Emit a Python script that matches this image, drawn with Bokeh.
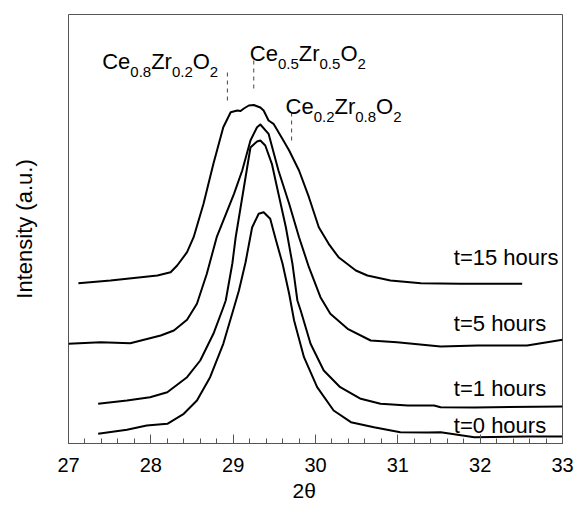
from bokeh.plotting import figure
from bokeh.models import Range1d, Label, SingleIntervalTicker, FixedTicker, Title
from bokeh.embed import file_html
from bokeh.resources import INLINE

# ---- data (2theta in degrees, intensity in arbitrary units) ----
t0_x = [27.36, 27.71, 27.95, 28.20, 28.40, 28.56, 28.72, 28.88, 29.01, 29.07, 29.15, 29.23, 29.31,
        29.37, 29.45, 29.51, 29.60, 29.68, 29.74, 29.86, 30.02, 30.22, 30.43, 30.71, 31.03, 31.36,
        31.52, 31.93, 32.57, 33.00]
t0_y = [9.7, 13.7, 18.0, 19.7, 29.7, 43.0, 66.3, 99.7, 136.0, 153.0, 181.0, 216.0, 229.7,
        231.3, 224.7, 206.3, 179.7, 149.7, 123.0, 86.3, 56.3, 33.0, 21.3, 16.3, 11.3, 11.0,
        11.3, 6.3, 7.0, 7.0]

t1_x = [27.36, 27.71, 27.99, 28.20, 28.44, 28.60, 28.76, 28.88, 28.91, 28.99, 29.03, 29.13, 29.21,
        29.29, 29.33, 29.39, 29.47, 29.55, 29.64, 29.72, 29.78, 29.82, 29.94, 30.10, 30.30, 30.55,
        30.79, 31.12, 31.44, 31.52, 31.93, 33.00]
t1_y = [39.7, 43.0, 46.3, 51.3, 66.3, 83.0, 109.7, 136.0, 143.0, 180.0, 206.0, 256.0, 296.0,
        302.0, 303.0, 298.0, 279.7, 249.7, 216.3, 179.7, 143.0, 133.0, 99.7, 73.0, 56.3, 44.7,
        39.7, 38.0, 38.0, 36.3, 36.0, 37.0]

t5_x = [27.00, 27.39, 27.75, 28.12, 28.28, 28.44, 28.56, 28.68, 28.80, 29.01, 29.11, 29.21, 29.29,
        29.33, 29.43, 29.55, 29.68, 29.80, 29.92, 30.06, 30.18, 30.39, 30.67, 30.99, 31.52, 31.97,
        32.57, 33.00]
t5_y = [99.7, 101.3, 100.3, 108.0, 113.0, 123.7, 139.7, 169.7, 206.3, 249.7, 273.0, 303.0, 316.3,
        319.0, 309.7, 273.0, 239.7, 206.3, 176.3, 146.3, 129.7, 114.7, 103.0, 101.3, 97.0, 98.0,
        98.0, 103.7]

t15_x = [27.12, 27.51, 28.08, 28.24, 28.32, 28.44, 28.52, 28.64, 28.76, 28.88, 28.97, 29.05, 29.09,
         29.13, 29.19, 29.25, 29.33, 29.37, 29.43, 29.49, 29.61, 29.68, 29.80, 29.92, 30.04, 30.16,
         30.28, 30.49, 30.63, 30.91, 31.28, 31.76, 32.51]
t15_y = [160.3, 163.0, 168.0, 171.3, 178.0, 191.3, 206.3, 239.7, 279.7, 316.3, 331.3, 333.0, 332.5,
         335.0, 338.0, 338.5, 336.0, 333.0, 323.0, 319.7, 303.0, 293.0, 273.0, 246.3, 216.3, 199.7,
         186.3, 173.0, 168.0, 163.0, 160.3, 159.7, 159.7]

series_labels = ["t=15 hours", "t=5 hours", "t=1 hours", "t=0 hours"]
series_label_y = [185.7, 119.7, 54.7, 18.0]

ref_x = [28.93, 29.25, 29.71]
ref_y0 = [343, 355, 303]
ref_y1 = [371, 383, 331]
ref_names = [[("Ce", False), ("0.8", True), ("Zr", False), ("0.2", True), ("O", False), ("2", True)],
             [("Ce", False), ("0.5", True), ("Zr", False), ("0.5", True), ("O", False), ("2", True)],
             [("Ce", False), ("0.2", True), ("Zr", False), ("0.8", True), ("O", False), ("2", True)]]
ref_label_x = [27.409, 29.202, 29.636]
ref_label_y = [382, 389.7, 337]

FONT = "Liberation Sans"

p = figure(width=576, height=508, output_backend="svg", toolbar_location=None,
           x_range=Range1d(27, 33), y_range=Range1d(0, 429),
           min_border_left=68, min_border_right=14, min_border_top=14, min_border_bottom=65)
p.background_fill_color = "white"
p.border_fill_color = "white"
p.outline_line_color = "#555555"
p.outline_line_width = 1
p.grid.visible = False

ya = p.yaxis[0]
ya.ticker = FixedTicker(ticks=[])
ya.axis_line_color = None
ya.major_tick_out = 0
ya.major_tick_in = 0
ya.minor_tick_out = 0
ya.minor_tick_in = 0
ya.major_label_standoff = 0
ya.axis_label = "Intensity (a.u.)"
ya.axis_label_text_font = FONT
ya.axis_label_text_font_size = "22px"
ya.axis_label_text_font_style = "normal"
ya.axis_label_text_color = "black"
ya.axis_label_standoff = 32

ax = p.xaxis[0]
ax.ticker = SingleIntervalTicker(interval=1, num_minor_ticks=5)
ax.axis_line_color = "#555555"
ax.major_tick_line_color = "#555555"
ax.minor_tick_line_color = "#555555"
ax.major_tick_in = 9
ax.major_tick_out = 0
ax.minor_tick_in = 5
ax.minor_tick_out = 0
ax.major_label_text_font = FONT
ax.major_label_text_font_size = "20px"
ax.major_label_text_color = "black"
ax.major_label_standoff = 14

# x-axis title as a panel title so it can sit slightly left of centre, as in the original
p.add_layout(Title(text="2θ", align="left", offset=224, standoff=5,
                   vertical_align="bottom", text_font=FONT, text_font_size="21px",
                   text_font_style="normal", text_color="black"), "below")

for xs, ys in [(t0_x, t0_y), (t1_x, t1_y), (t5_x, t5_y), (t15_x, t15_y)]:
    p.line(xs, ys, line_color="black", line_width=2, line_join="round")

p.segment(x0=ref_x, y0=ref_y0, x1=ref_x, y1=ref_y1, line_color="#444444",
          line_width=1, line_dash="4 4")

W = {"C": 0.722, "e": 0.556, "Z": 0.611, "r": 0.333, "O": 0.778, ".": 0.278}
for lx, ly, parts in zip(ref_label_x, ref_label_y, ref_names):
    off = 0.0
    for txt, sub in parts:
        size = 15 if sub else 22
        yy = ly - 10.5 if sub else ly
        p.add_layout(Label(x=lx, y=yy, x_offset=off, text=txt, text_font=FONT,
                           text_font_size=f"{size}px", text_baseline="alphabetic",
                           text_align="left", text_color="black"))
        off += sum(W.get(c, 0.556) for c in txt) * size

for txt, ly in zip(series_labels, series_label_y):
    p.add_layout(Label(x=31.68, y=ly, text=txt, text_font=FONT, text_font_size="22px",
                       text_baseline="alphabetic", text_align="left", text_color="black"))

open("out.html", "w").write(file_html(p, INLINE))
